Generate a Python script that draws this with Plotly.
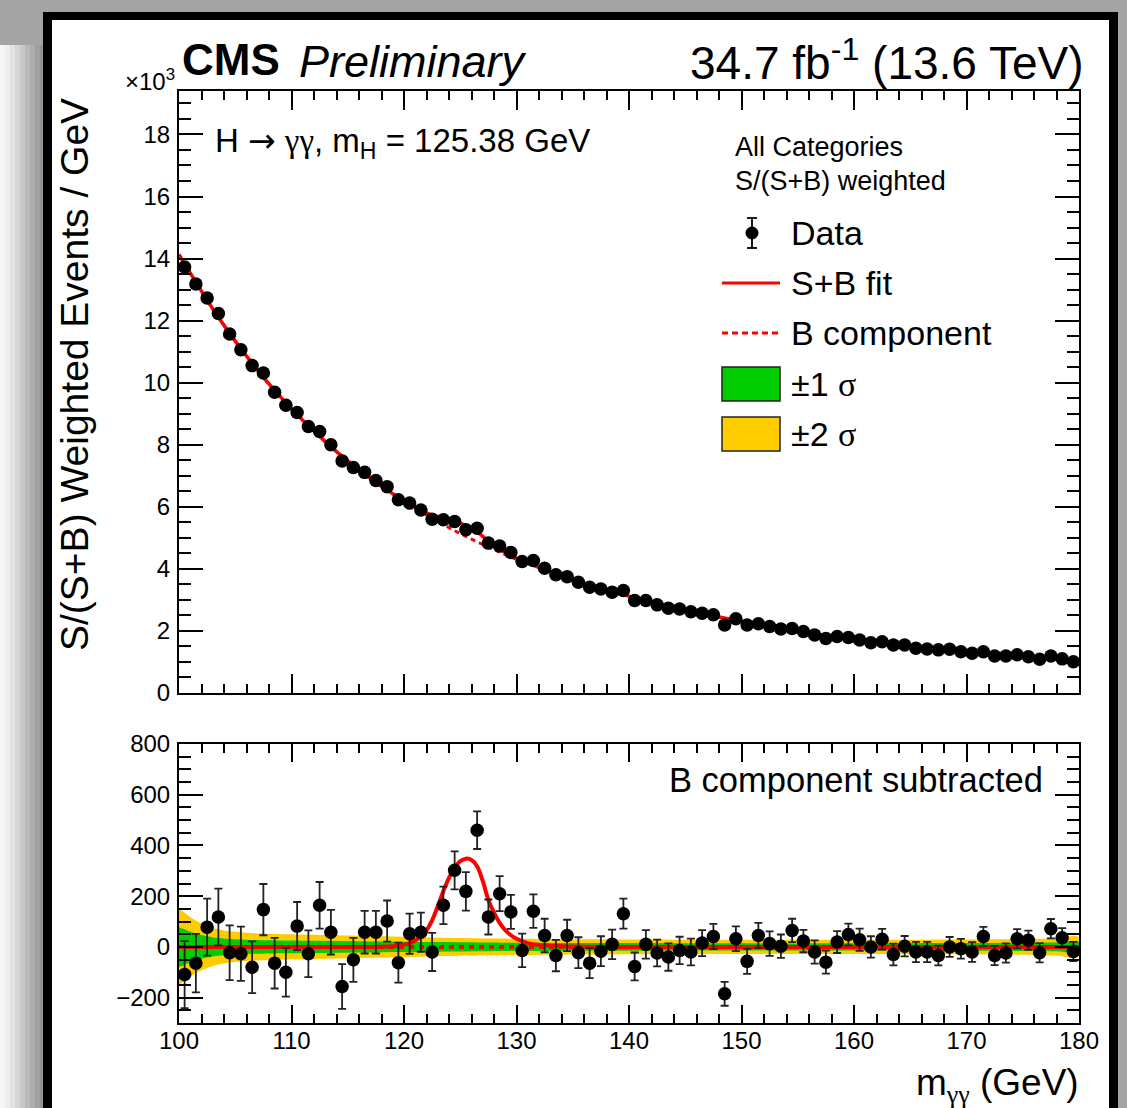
import plotly.graph_objects as go

W, H = 1127, 1108

# ---- data: diphoton mass bins (GeV) ----
mass = [100.5 + i for i in range(80)]

# S/(S+B) weighted events per GeV, in thousands
events_k = [
    13.73, 13.18, 12.73, 12.23, 11.57, 11.06, 10.55, 10.31, 9.69, 9.27,
    9.04, 8.59, 8.43, 8.00, 7.48, 7.27, 7.11, 6.85, 6.65, 6.23,
    6.12, 5.90, 5.60, 5.58, 5.53, 5.26, 5.31, 4.83, 4.74, 4.53,
    4.24, 4.27, 4.02, 3.81, 3.75, 3.57, 3.41, 3.35, 3.25, 3.30,
    2.98, 2.98, 2.84, 2.73, 2.71, 2.62, 2.57, 2.52, 2.19, 2.39,
    2.19, 2.23, 2.14, 2.06, 2.08, 1.98, 1.87, 1.76, 1.82, 1.79,
    1.71, 1.62, 1.65, 1.55, 1.55, 1.44, 1.42, 1.39, 1.41, 1.33,
    1.28, 1.33, 1.19, 1.19, 1.23, 1.17, 1.09, 1.19, 1.10, 1.01,
]

# background-subtracted events per GeV
subtracted = [
    -109, -64, 78, 118, -23, -27, -80, 147, -64, -100,
    82, -27, 164, 58, -156, -51, 58, 58, 102, -62,
    52, 58, -20, 164, 302, 219, 460, 118, 210, 138,
    -14, 141, 45, -34, 45, -23, -64, -17, 10, 131,
    -77, 10, -24, -40, -14, -20, 15, 41, -185, 32,
    -57, 45, 13, 3, 65, 23, -20, -60, 19, 49,
    28, 0, 30, -30, 3, -20, -20, -34, 0, -7,
    -20, 41, -34, -24, 32, 26, -23, 72, 36, -18,
]

# statistical uncertainty per bin (events per GeV)
stat_err = [
    132, 115, 112, 112, 108, 107, 102, 101, 100, 96,
    95, 92, 92, 88, 88, 87, 84, 84, 81, 79,
    79, 77, 75, 74, 75, 76, 74, 69, 69, 67,
    66, 66, 66, 62, 62, 61, 59, 59, 58, 59,
    55, 56, 53, 54, 54, 53, 51, 50, 47, 49,
    49, 50, 48, 46, 46, 44, 46, 45, 43, 43,
    44, 42, 41, 43, 40, 40, 40, 39, 39, 39,
    39, 38, 38, 38, 38, 38, 38, 38, 38, 38,
]

# fitted model sampled along the mass axis
fit_mass = [100, 101, 102, 103, 104, 105, 106, 107, 108, 109, 110, 111, 112, 113, 114,
            115, 116, 117, 118, 119, 120, 121, 122, 122.5, 123, 123.5, 124, 124.5, 125,
            125.5, 126, 126.5, 127, 127.5, 128, 128.5, 129, 129.5, 130, 131, 132, 134,
            136, 138, 140, 142, 144, 146, 148, 150, 153, 156, 160, 165, 170, 175, 180]
# background component (thousands of events per GeV)
bkg_fit_k = [14.13, 13.53, 12.95, 12.38, 11.85, 11.34, 10.86, 10.40, 9.96, 9.55, 9.16, 8.79,
             8.44, 8.10, 7.78, 7.48, 7.19, 6.92, 6.66, 6.42, 6.18, 5.96, 5.74, 5.63, 5.53,
             5.43, 5.33, 5.23, 5.14, 5.05, 4.96, 4.87, 4.79, 4.70, 4.62, 4.54, 4.46, 4.38,
             4.31, 4.17, 4.04, 3.78, 3.54, 3.32, 3.12, 2.93, 2.76, 2.60, 2.45, 2.31, 2.11,
             1.93, 1.72, 1.50, 1.32, 1.17, 1.04]
# signal component (events per GeV)
sig_fit = [0, 0, 0, 0, 0, 0, 0, 0, 0, 0, 0, 0, 0, 0, 0,
           0, 0, 0, 1, 3, 8, 25, 65, 105, 160, 220, 272, 312, 338,
           348, 343, 318, 260, 185, 135, 95, 66, 46, 32, 15, 8, 3,
           1, 0, 0, 0, 0, 0, 0, 0, 0, 0, 0, 0, 0, 0, 0]

# uncertainty bands of the background fit (events per GeV)
band_mass = [100, 100.5, 101, 102, 103, 104, 106, 108, 112, 116, 120, 125, 130,
             140, 150, 160, 170, 175, 178, 180]
band_2sigma = [150, 135, 118, 92, 75, 65, 56, 52, 48, 44, 40, 35, 32,
               29, 28, 28, 29, 31, 34, 38]
band_1sigma = [78, 70, 60, 47, 38, 33, 28, 26, 24, 22, 20, 18, 16,
               15, 14, 14, 15, 16, 17, 19]

RED = "#ff0000"
GREEN = "#00cc00"
YELLOW = "#ffcc00"
FONT = "Liberation Sans"
SERIF = "Liberation Serif"


def px(x):
    return x / W


def py(y):
    return 1 - y / H


fig = go.Figure()

# ---- upper panel ----
fig.add_trace(go.Scatter(
    x=fit_mass, y=bkg_fit_k, mode="lines", xaxis="x2", yaxis="y",
    line=dict(color=RED, width=3, dash="5px,4px", shape="spline"), hoverinfo="skip"))
fig.add_trace(go.Scatter(
    x=fit_mass, y=[b + s / 1000 for b, s in zip(bkg_fit_k, sig_fit)], mode="lines",
    xaxis="x2", yaxis="y", line=dict(color=RED, width=3.5, shape="spline"), hoverinfo="skip"))
fig.add_trace(go.Scatter(
    x=mass, y=events_k, mode="markers", xaxis="x2", yaxis="y",
    marker=dict(color="black", size=13.5),
    error_y=dict(type="data", array=[e / 1000 for e in stat_err], color="#222", thickness=1.8, width=4)))

# ---- lower panel ----
for half, col in ((band_2sigma, YELLOW), (band_1sigma, GREEN)):
    fig.add_trace(go.Scatter(
        x=band_mass + band_mass[::-1],
        y=half + [-h for h in half[::-1]],
        fill="toself", fillcolor=col, mode="lines", line=dict(width=0, color=col, shape="spline"),
        xaxis="x", yaxis="y2", hoverinfo="skip"))
fig.add_trace(go.Scatter(
    x=fit_mass, y=sig_fit, mode="lines", xaxis="x", yaxis="y2",
    line=dict(color=RED, width=4, shape="spline"), hoverinfo="skip"))
fig.add_trace(go.Scatter(
    x=[fit_mass[0], fit_mass[-1]], y=[0, 0], mode="lines", xaxis="x", yaxis="y2",
    line=dict(color=RED, width=4, dash="5px,5px"), hoverinfo="skip"))
fig.add_trace(go.Scatter(
    x=mass, y=subtracted, mode="markers", xaxis="x", yaxis="y2",
    marker=dict(color="black", size=13.5),
    error_y=dict(type="data", array=stat_err, color="#222", thickness=1.8, width=4)))

x_dom = [px(179), px(1079)]
tickfont = dict(family=FONT, size=24, color="black")
common_x = dict(range=[100, 180], domain=x_dom, showgrid=False, zeroline=False,
                showline=True, linecolor="black", linewidth=2, mirror="allticks",
                ticks="inside", tickwidth=1.5, tickcolor="black",
                tickvals=list(range(100, 181, 10)),
                minor=dict(dtick=2, ticks="inside", ticklen=9, tickwidth=1.5, tickcolor="black", showgrid=False))
common_y = dict(showgrid=False, zeroline=False, showline=True, linecolor="black", linewidth=2,
                mirror="allticks", ticks="inside", ticklen=24, tickwidth=1.5, tickcolor="black",
                tickfont=tickfont, ticklabelstandoff=2)

fig.update_layout(
    width=W, height=H, margin=dict(l=0, r=0, t=0, b=0, autoexpand=False),
    paper_bgcolor="#a4a4a4", plot_bgcolor="rgba(0,0,0,0)", showlegend=False,
    xaxis=dict(common_x, anchor="y2", ticklen=18, tickfont=tickfont,
               ticktext=[str(v) for v in range(100, 181, 10)], ticklabelstandoff=-5),
    xaxis2=dict(common_x, anchor="y", matches="x", ticklen=19, showticklabels=False),
    yaxis=dict(common_y, range=[0, 19.4], domain=[py(693), py(91)], anchor="x2",
               tickvals=list(range(0, 19, 2)), ticktext=[str(v) for v in range(0, 19, 2)],
               minor=dict(dtick=0.5, ticks="inside", ticklen=12, tickwidth=1.5, tickcolor="black", showgrid=False)),
    yaxis2=dict(common_y, range=[-300, 800], domain=[py(1023), py(744)], anchor="x",
                tickvals=list(range(-200, 801, 200)),
                ticktext=[("\u2212" + str(-v)) if v < 0 else str(v) for v in range(-200, 801, 200)],
                minor=dict(dtick=50, ticks="inside", ticklen=12, tickwidth=1.5, tickcolor="black", showgrid=False)),
)

shapes = []
# shaded surround on the left edge
left_greys = ["#f6f6f6", "#ededed", "#e2e2e2", "#d6d6d6", "#c8c8c8", "#bababa", "#adadad", "#a0a0a0", "#949494"]
for i, c in enumerate(left_greys):
    shapes.append(dict(type="rect", xref="paper", yref="paper", x0=px(i * 5), x1=px(i * 5 + 5),
                       y0=0, y1=py(45), fillcolor=c, line=dict(width=0), layer="below"))
# black frame and white canvas
shapes.append(dict(type="rect", xref="paper", yref="paper", x0=px(43), x1=px(1118), y0=0, y1=py(12),
                   fillcolor="black", line=dict(width=0), layer="below"))
shapes.append(dict(type="rect", xref="paper", yref="paper", x0=px(52), x1=px(1109), y0=0, y1=py(20),
                   fillcolor="white", line=dict(width=0), layer="below"))

# legend glyphs
shapes.append(dict(type="line", xref="paper", yref="paper", x0=px(752), x1=px(752), y0=py(218), y1=py(248),
                   line=dict(color="black", width=1.8)))
for yy in (218, 248):
    shapes.append(dict(type="line", xref="paper", yref="paper", x0=px(747), x1=px(757), y0=py(yy), y1=py(yy),
                       line=dict(color="black", width=1.8)))
shapes.append(dict(type="circle", xref="paper", yref="paper", x0=px(745.5), x1=px(758.5), y0=py(226.5), y1=py(239.5),
                   fillcolor="black", line=dict(width=0)))
shapes.append(dict(type="line", xref="paper", yref="paper", x0=px(722), x1=px(780), y0=py(283), y1=py(283),
                   line=dict(color=RED, width=3)))
shapes.append(dict(type="line", xref="paper", yref="paper", x0=px(722), x1=px(780), y0=py(333), y1=py(333),
                   line=dict(color=RED, width=3, dash="6px,4px")))
shapes.append(dict(type="rect", xref="paper", yref="paper", x0=px(722), x1=px(780), y0=py(401), y1=py(367),
                   fillcolor=GREEN, line=dict(color="#222", width=1.5)))
shapes.append(dict(type="rect", xref="paper", yref="paper", x0=px(722), x1=px(780), y0=py(451), y1=py(417),
                   fillcolor=YELLOW, line=dict(color="#222", width=1.5)))
fig.update_layout(shapes=shapes)


def note(text, x, y, size, xanchor="left", angle=0, yanchor="middle"):
    fig.add_annotation(text=text, x=px(x), y=py(y), xref="paper", yref="paper",
                       xanchor=xanchor, yanchor=yanchor, showarrow=False, textangle=angle,
                       font=dict(family=FONT, size=size, color="black"))


def styled(s, family):
    return '<span style="font-family:%s">%s</span>' % (family, s)


note("\u00d710<sup>3</sup>", 177, 80, 24, xanchor="right")
note("<b>CMS</b>", 180, 60, 44)
note("<i>Preliminary</i>", 297, 61, 45)
note("34.7 fb<sup>-1</sup> (13.6 TeV)", 1085, 60, 46, xanchor="right")
note("S/(S+B) Weighted Events / GeV", 75, 375, 39, xanchor="center", angle=-90)
note("H " + styled("\u2192", "DejaVu Sans") + " " + styled("\u03b3\u03b3", SERIF)
     + ", m<sub>H</sub> = 125.38 GeV", 213, 142, 33)
note("All Categories", 733, 147, 27)
note("S/(S+B) weighted", 733, 181, 27)
note("Data", 789, 233, 34)
note("S+B fit", 789, 283, 34)
note("B component", 789, 333, 34)
note("\u00b11 " + styled("\u03c3", SERIF), 789, 384, 34)
note("\u00b12 " + styled("\u03c3", SERIF), 789, 434, 34)
note("B component subtracted", 1045, 780, 34.5, xanchor="right")
note("m<sub>" + styled("\u03b3\u03b3", SERIF) + "</sub> (GeV)", 1081, 1085, 37, xanchor="right")

fig.write_html("out.html")
